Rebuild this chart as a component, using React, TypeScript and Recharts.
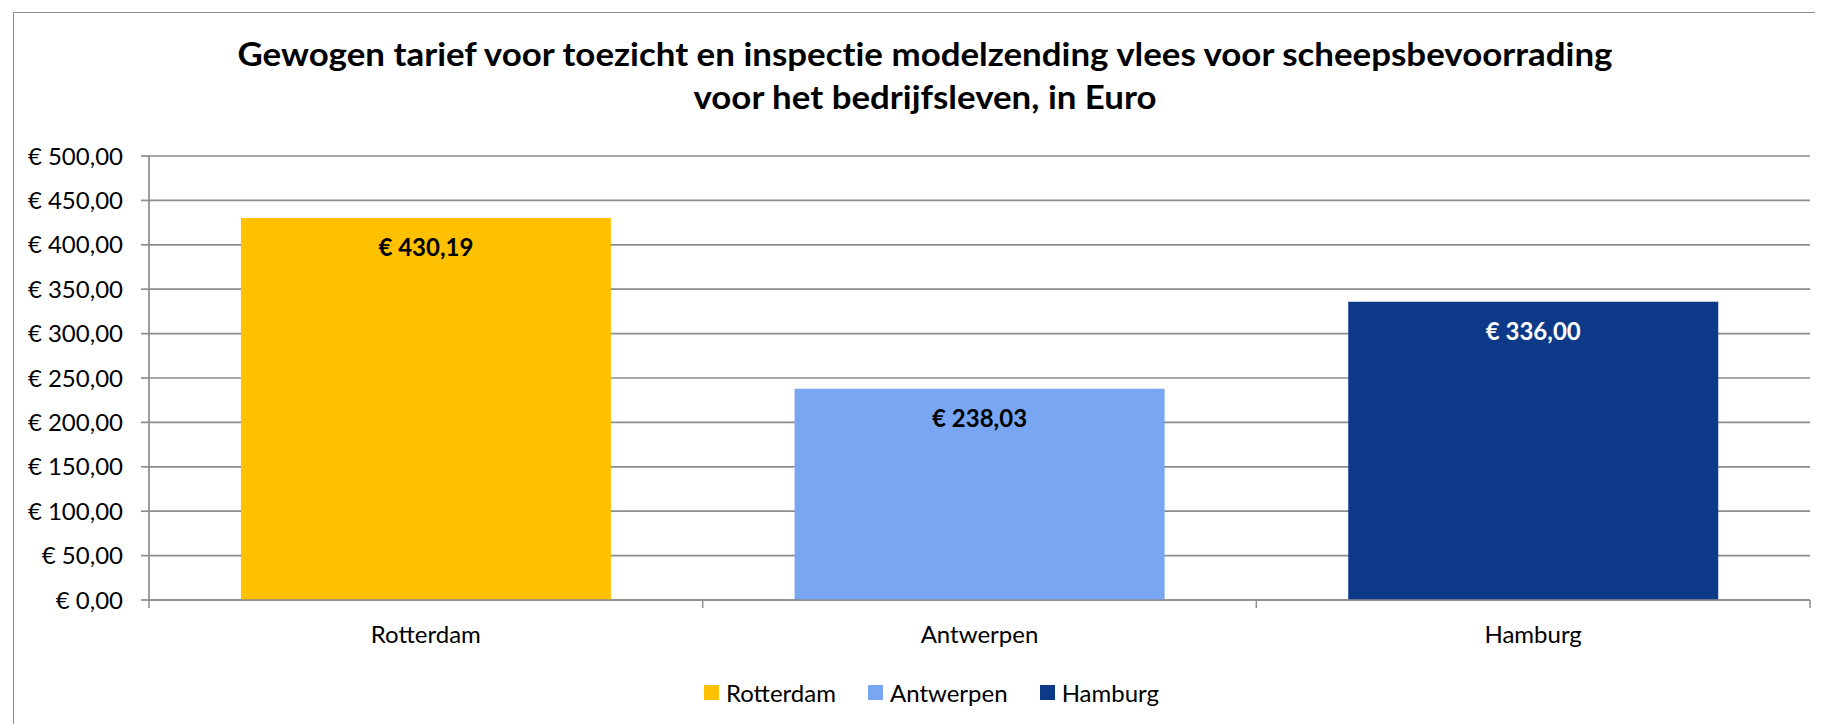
import React from 'react';
import { BarChart, Bar, XAxis, YAxis, CartesianGrid, Cell, LabelList, Legend } from 'recharts';

const titleLines = [
  'Gewogen tarief voor toezicht en inspectie modelzending vlees voor scheepsbevoorrading',
  'voor het bedrijfsleven, in Euro',
];
const categories = ['Rotterdam', 'Antwerpen', 'Hamburg'];
const values = [430.19, 238.03, 336.0];
const barColors = ['#FFC000', '#78A6F3', '#0D3A88'];
const labelColors = ['#000000', '#000000', '#FFFFFF'];
const yTicks = [0, 50, 100, 150, 200, 250, 300, 350, 400, 450, 500];

const FONT = 'Lato, "Open Sans", sans-serif';
const GRID = '#8c8c8c';
const NOLIG: React.CSSProperties = { fontVariantLigatures: 'none', fontFeatureSettings: '"liga" 0, "clig" 0' };

const data = categories.map((c, i) => ({ category: c, value: values[i] }));

const euro = (v: number) =>
  '€ ' + v.toFixed(2).replace('.', ',');

const XTick = (props: any) => {
  const { x, y, payload, index, visibleTicksCount } = props;
  const band = (1810 - 149) / (visibleTicksCount || 3);
  const half = band / 2;
  return (
    <g>
      <line x1={x - half} y1={y} x2={x - half} y2={y + 8} stroke={GRID} strokeWidth={1.5} />
      {index === (visibleTicksCount || 3) - 1 && (
        <line x1={x + half} y1={y} x2={x + half} y2={y + 8} stroke={GRID} strokeWidth={1.5} />
      )}
      <text x={x} y={y + 43} textAnchor="middle" fontSize={24} fontFamily={FONT} fill="#000">
        {payload.value}
      </text>
    </g>
  );
};

const ValueLabel = (props: any) => {
  const { x, y, width, value, index } = props;
  return (
    <text
      x={x + width / 2}
      y={y + 38}
      textAnchor="middle"
      fontSize={24}
      fontWeight={700}
      fontFamily={FONT}
      fill={labelColors[index]}
    >
      {euro(value)}
    </text>
  );
};

const LegendContent = () => (
  <div
    style={{
      display: 'flex',
      justifyContent: 'center',
      alignItems: 'center',
      fontFamily: FONT,
      fontSize: 24,
      color: '#000',
      height: 30,
    }}
  >
    {categories.map((c, i) => (
      <div key={c} style={{ display: 'flex', alignItems: 'center', marginLeft: i === 0 ? 0 : 32 }}>
        <div style={{ width: 15, height: 15, background: barColors[i], marginRight: 7 }} />
        <span>{c}</span>
      </div>
    ))}
  </div>
);

export default function App() {
  return (
    <div style={{ position: 'relative', width: 1823, height: 724, margin: '-8px 0 0 -8px', overflow: 'hidden', background: '#fff' }}>
      <div
        style={{
          position: 'absolute',
          left: 13,
          top: 12,
          width: 1900,
          height: 800,
          border: `1.5px solid ${GRID}`,
          boxSizing: 'border-box',
        }}
      />
      <svg style={{ position: 'absolute', left: 0, top: 0 }} width={1823} height={130}>
        <text x={925} y={66} textAnchor="middle" fontSize={32} fontWeight={700} fontFamily={FONT} fill="#000"
          style={NOLIG} textLength={1375} lengthAdjust="spacingAndGlyphs">
          {titleLines[0]}
        </text>
        <text x={925} y={109} textAnchor="middle" fontSize={32} fontWeight={700} fontFamily={FONT} fill="#000"
          style={NOLIG} textLength={463} lengthAdjust="spacingAndGlyphs">
          {titleLines[1]}
        </text>
      </svg>
      <div style={{ position: 'absolute', left: 0, top: 0 }}>
        <BarChart
          width={1823}
          height={724}
          data={data}
          margin={{ top: 156, right: 13, bottom: 84, left: 0 }}
          barCategoryGap="16.6%"
        >
          <CartesianGrid vertical={false} stroke={GRID} strokeWidth={1.7} />
          <XAxis
            dataKey="category"
            height={40}
            axisLine={{ stroke: GRID, strokeWidth: 1.7 }}
            tickLine={false}
            tickSize={0}
            tickMargin={0}
            tick={<XTick />}
            interval={0}
          />
          <YAxis
            width={149}
            domain={[0, 500]}
            ticks={yTicks}
            interval={0}
            tickFormatter={euro}
            axisLine={{ stroke: GRID, strokeWidth: 1.7 }}
            tickLine={{ stroke: GRID, strokeWidth: 1.7 }}
            tickSize={8}
            tickMargin={18}
            tick={{ fontSize: 24, fontFamily: FONT, fill: '#000' }}
          />
          <Legend
            verticalAlign="middle"
            align="center"
            layout="horizontal"
            wrapperStyle={{ left: 0, top: 677, width: 1863, height: 30 }}
            content={<LegendContent />}
          />
          <Bar dataKey="value" isAnimationActive={false}>
            {data.map((d, i) => (
              <Cell key={d.category} fill={barColors[i]} />
            ))}
            <LabelList dataKey="value" content={<ValueLabel />} />
          </Bar>
        </BarChart>
      </div>
    </div>
  );
}
